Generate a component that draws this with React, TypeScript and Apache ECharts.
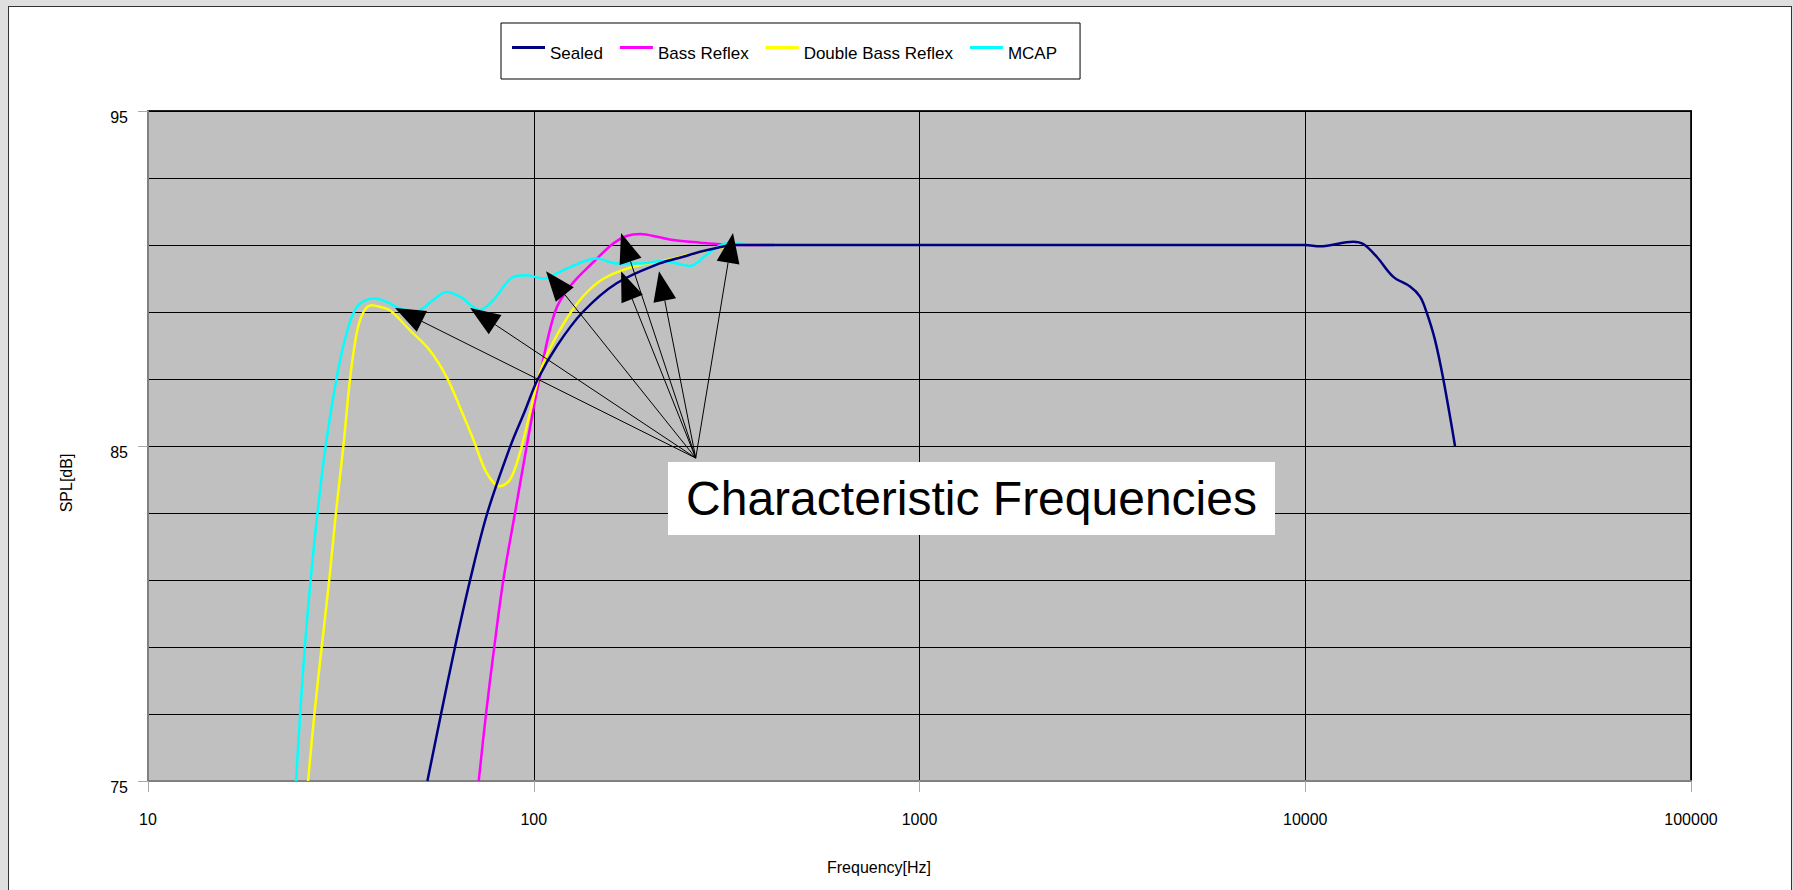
import React, { useEffect, useRef } from "react";
import * as echarts from "echarts";

// ---------- data ----------
const seriesNames = ["Sealed", "Bass Reflex", "Double Bass Reflex", "MCAP"];
const seriesColors = ["#000080", "#FF00FF", "#FFFF00", "#00FFFF"];

const sealedFreq = [53, 57.5, 62.5, 68.4, 75.8, 87, 94.5, 102.5, 115, 134, 164, 212, 244, 270, 300, 330, 400, 1000, 5000, 10000, 10920, 13320, 14140, 15320, 16920, 18690, 19840, 20650, 21700, 22800, 24450];
const sealedSpl = [75, 77, 79, 81, 83, 85, 86, 87, 88, 89, 89.86, 90.45, 90.65, 90.8, 90.92, 91, 91, 91, 91, 91, 90.96, 91.1, 91.03, 90.65, 90.05, 89.76, 89.46, 88.98, 88.16, 86.99, 85];

const bassReflexFreq = [72, 75.2, 79, 83.4, 89.4, 95.9, 103.4, 113.5, 124, 143, 161, 174, 189, 212, 230, 270, 304, 350, 420];
const bassReflexSpl = [75, 77, 79, 81, 83, 85, 87, 89, 89.76, 90.5, 91.05, 91.27, 91.33, 91.23, 91.15, 91.07, 91.02, 91.0, 91.0];

const doubleBassFreq = [26, 27, 28.2, 29.5, 30.7, 32.1, 33.4, 34.8, 36.2, 38, 40, 42.4, 47.8, 53.8, 59.5, 64.4, 69.7, 75.5, 81.7, 86.8, 92.1, 97.8, 103.8, 110, 121.7, 135, 152, 181, 221, 250, 280, 330];
const doubleBassSpl = [75, 77, 79, 81, 83, 85, 87, 88.4, 89, 89.2, 89.15, 89.05, 88.45, 87.85, 87.05, 86.15, 85.2, 84.2, 83.8, 84.0, 84.8, 86.0, 87.2, 87.9, 88.8, 89.5, 90.0, 90.35, 90.55, 90.7, 90.83, 91.0];

const mcapFreq = [24.2, 24.8, 25.5, 26.4, 27.5, 28.8, 30.8, 32.7, 34.8, 38.4, 41.6, 45, 49.7, 54.9, 59.5, 64.4, 72.6, 78.6, 88.5, 95.9, 105.9, 117, 134, 145.6, 164, 190, 215, 235, 254, 280, 300, 320, 360, 420];
const mcapSpl = [75, 77, 79, 81, 83, 84.9, 87, 88.35, 89.15, 89.4, 89.3, 89.1, 89.04, 89.36, 89.6, 89.46, 89.06, 89.36, 90.05, 90.1, 90.0, 90.2, 90.5, 90.6, 90.45, 90.45, 90.52, 90.45, 90.37, 90.7, 90.95, 91.05, 91.02, 91.0];

const xTickLabels = ["10", "100", "1000", "10000", "100000"];
const yTickLabels = ["75", "85", "95"];

// annotation arrows (in data coordinates: frequency, SPL)
const arrowOrigin = [263, 84.64];
const arrowTipFreq = [43.7, 68.4, 107.6, 168.4, 168.4, 211.2, 328.5];
const arrowTipSpl = [89.12, 89.12, 90.22, 91.36, 90.22, 90.22, 91.36];
const annotationText = "Characteristic Frequencies";

const zip = (f: number[], s: number[]) => f.map((v, i) => [v, s[i]]);

export default function App() {
  const ref = useRef<HTMLDivElement>(null);

  useEffect(() => {
    document.body.style.margin = "0";
    const chart = echarts.init(ref.current!, null, { renderer: "svg" });
    const font = "'Liberation Sans', Arial, sans-serif";

    const datasets = [
      zip(sealedFreq, sealedSpl),
      zip(bassReflexFreq, bassReflexSpl),
      zip(doubleBassFreq, doubleBassSpl),
      zip(mcapFreq, mcapSpl),
    ];
    const zs = [6, 3, 4, 5];

    chart.setOption({
      animation: false,
      legend: {
        data: seriesNames,
        left: 501,
        top: 23,
        orient: "horizontal",
        icon: "rect",
        itemWidth: 33,
        itemHeight: 3,
        itemGap: 17,
        padding: [10, 23, 17, 11],
        borderColor: "#000",
        borderWidth: 1,
        backgroundColor: "#fff",
        formatter: (name: string) => `{t|${name}}`,
        textStyle: {
          fontFamily: font,
          fontSize: 17,
          color: "#000",
          rich: {
            t: { fontFamily: font, fontSize: 17, lineHeight: 17, color: "#000", padding: [12, 0, 0, 0] },
          },
        },
      },
      grid: {
        left: 148,
        top: 111,
        width: 1543,
        height: 670,
        show: true,
        backgroundColor: "#c0c0c0",
        borderColor: "#222",
        borderWidth: 2,
      },
      xAxis: {
        type: "log",
        logBase: 10,
        min: 10,
        max: 100000,
        name: "Frequency[Hz]",
        nameLocation: "middle",
        nameGap: 78,
        nameTextStyle: { fontFamily: font, fontSize: 16, color: "#000", padding: [0, 81, 0, 0] },
        axisLine: { show: true, onZero: false, lineStyle: { color: "#808080", width: 2 } },
        axisTick: { show: true, length: 11, lineStyle: { color: "#a8a8a8" } },
        axisLabel: {
          margin: 30,
          fontFamily: font,
          fontSize: 16,
          color: "#000",
          formatter: (v: number) => {
            const i = Math.round(Math.log10(v)) - 1;
            return xTickLabels[i] ?? String(v);
          },
        },
        splitLine: { show: true, lineStyle: { color: "#000", width: 1 } },
        minorTick: { show: false },
        minorSplitLine: { show: false },
      },
      yAxis: {
        type: "value",
        min: 75,
        max: 95,
        interval: 10,
        name: "SPL[dB]",
        nameLocation: "middle",
        nameGap: 74,
        nameRotate: 90,
        nameTextStyle: { fontFamily: font, fontSize: 16, color: "#000", padding: [0, 74, 0, 0] },
        axisLine: { show: true, onZero: false, lineStyle: { color: "#808080", width: 2 } },
        axisTick: { show: true, length: 10, lineStyle: { color: "#a8a8a8" } },
        axisLabel: {
          margin: 20,
          fontFamily: font,
          fontSize: 16,
          color: "#000",
          formatter: (v: number) => {
            const s = String(Math.round(v));
            return yTickLabels.includes(s) ? `{v|${s}}` : "";
          },
          rich: {
            v: { fontFamily: font, fontSize: 16, lineHeight: 16, color: "#000", padding: [12, 0, 0, 0] },
          },
        },
        splitLine: { show: true, lineStyle: { color: "#000", width: 1 } },
        minorTick: { show: false, splitNumber: 5 },
        minorSplitLine: { show: true, lineStyle: { color: "#000", width: 1 } },
      },
      series: seriesNames.map((name, i) => ({
        type: "line",
        name,
        data: datasets[i],
        smooth: 0.35,
        symbol: "none",
        showSymbol: false,
        z: zs[i],
        lineStyle: { color: seriesColors[i], width: 2.5 },
        itemStyle: { color: seriesColors[i] },
        emphasis: { disabled: true },
      })),
    });

    // annotation: arrows computed through the chart's own coordinate system
    const o = chart.convertToPixel({ gridIndex: 0 }, arrowOrigin) as number[];
    const L = 30;
    const W = 11.5;
    const graphics: any[] = [];
    arrowTipFreq.forEach((f, i) => {
      const t = chart.convertToPixel({ gridIndex: 0 }, [f, arrowTipSpl[i]]) as number[];
      const dx = t[0] - o[0];
      const dy = t[1] - o[1];
      const len = Math.hypot(dx, dy);
      const ux = dx / len;
      const uy = dy / len;
      const bx = t[0] - ux * L;
      const by = t[1] - uy * L;
      const nx = -uy;
      const ny = ux;
      graphics.push({
        type: "line",
        shape: { x1: o[0], y1: o[1], x2: bx, y2: by },
        style: { stroke: "#000", lineWidth: 1 },
        z: 100,
        silent: true,
      });
      graphics.push({
        type: "polygon",
        shape: { points: [[t[0], t[1]], [bx + nx * W, by + ny * W], [bx - nx * W, by - ny * W]] },
        style: { fill: "#000" },
        z: 100,
        silent: true,
      });
    });
    graphics.push({
      type: "rect",
      shape: { x: 668, y: 462, width: 607, height: 73 },
      style: { fill: "#fff" },
      z: 100,
      silent: true,
    });
    graphics.push({
      type: "text",
      x: 971.5,
      y: 498,
      style: {
        text: annotationText,
        font: `48px ${font}`,
        fill: "#000",
        textAlign: "center",
        textVerticalAlign: "middle",
      },
      z: 101,
      silent: true,
    });
    chart.setOption({ graphic: graphics });

    return () => chart.dispose();
  }, []);

  return (
    <div style={{ position: "relative", width: 1793, height: 890, overflow: "hidden", background: "#dfdfdf" }}>
      <div
        style={{
          position: "absolute",
          left: 8,
          top: 6,
          width: 1782,
          height: 900,
          background: "#fff",
          borderLeft: "1px solid #333",
          borderTop: "1px solid #333",
          borderRight: "1px solid #333",
        }}
      />
      <div ref={ref} style={{ position: "absolute", left: 0, top: 0, width: 1793, height: 890 }} />
    </div>
  );
}
